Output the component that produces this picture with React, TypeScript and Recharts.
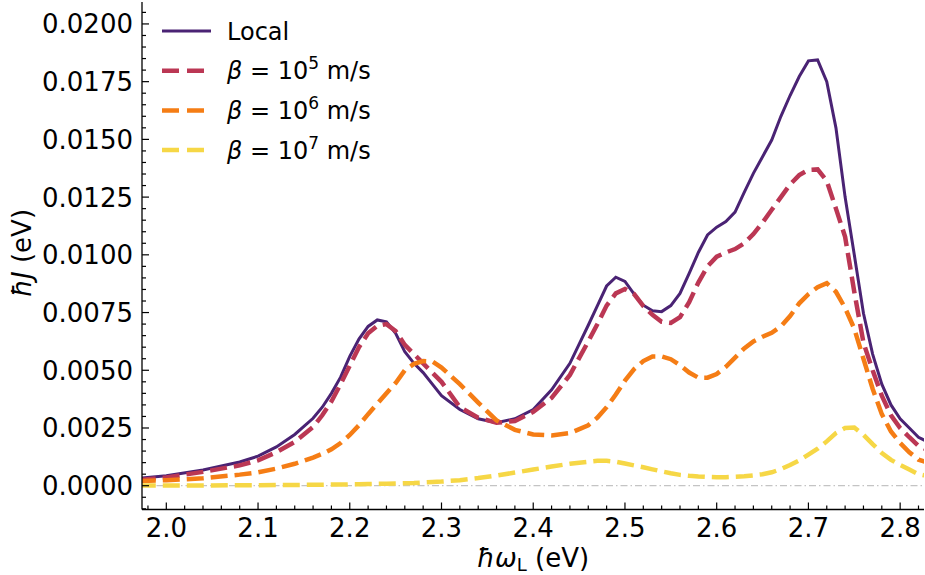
import React from 'react';
import { LineChart, Line, XAxis, YAxis, ReferenceLine } from 'recharts';

const xs = [
  1.97, 2.0, 2.04, 2.08, 2.1, 2.12, 2.14, 2.16,
  2.17, 2.18, 2.19, 2.2, 2.21, 2.22, 2.23, 2.24, 2.25, 2.26, 2.27, 2.28, 2.29, 2.3,
  2.32, 2.34, 2.36, 2.38, 2.4, 2.42, 2.44, 2.46,
  2.47, 2.48, 2.49, 2.5, 2.51, 2.52, 2.53, 2.54, 2.55, 2.56,
  2.57, 2.58, 2.59, 2.6, 2.61, 2.62, 2.63, 2.64, 2.65, 2.66,
  2.67, 2.68, 2.69, 2.7, 2.71, 2.72, 2.73, 2.74, 2.75, 2.76,
  2.77, 2.78, 2.79, 2.8, 2.81, 2.82, 2.83,
];

const localJ = [
  0.00032, 0.00043, 0.00068, 0.00103, 0.00128, 0.00168, 0.00222, 0.00292,
  0.0034, 0.004, 0.0047, 0.0056, 0.00635, 0.0069, 0.00718, 0.0071, 0.0066, 0.0058, 0.0053, 0.0049, 0.0044, 0.0039,
  0.0033, 0.0029, 0.00273, 0.0029, 0.0033, 0.00415, 0.0053, 0.00695,
  0.0078, 0.00865, 0.00903, 0.00885, 0.0083, 0.00782, 0.00758, 0.00754, 0.0078, 0.00833,
  0.0092, 0.0101, 0.01086, 0.0112, 0.01144, 0.01185, 0.0127, 0.01353, 0.01425, 0.01497,
  0.016, 0.0169, 0.01772, 0.0184, 0.01844, 0.0175, 0.0155, 0.0125, 0.01, 0.00747,
  0.0057, 0.0044, 0.0035, 0.0029, 0.0025, 0.0021, 0.0019,
];

const beta1e5 = [
  0.00025, 0.00036, 0.0006, 0.00088, 0.0011, 0.00145, 0.0019, 0.00255,
  0.00305, 0.00365, 0.0044, 0.0052, 0.006, 0.0066, 0.00692, 0.007, 0.0067, 0.0061, 0.0057, 0.0053, 0.0049, 0.0045,
  0.0034, 0.00295, 0.00273, 0.0028, 0.0032, 0.0038, 0.0048, 0.00625,
  0.007, 0.0078, 0.00833, 0.00852, 0.0083, 0.00778, 0.0074, 0.0071, 0.00705, 0.0073,
  0.00795, 0.0088, 0.0095, 0.00992, 0.0101, 0.01025, 0.0105, 0.0109, 0.0114, 0.01195,
  0.0125, 0.01305, 0.01345, 0.01368, 0.0137, 0.0132, 0.012, 0.01078, 0.0084, 0.0062,
  0.005, 0.0039, 0.00305, 0.0025, 0.0021, 0.00172, 0.00155,
];

const beta1e6 = [
  0.0002, 0.00024, 0.00032, 0.00048, 0.00058, 0.00074, 0.00095, 0.00122,
  0.00138, 0.00158, 0.00185, 0.0022, 0.00262, 0.0031, 0.00355, 0.004, 0.00445, 0.005, 0.00528, 0.0054, 0.00538, 0.00512,
  0.0044, 0.0036, 0.00283, 0.00242, 0.00222, 0.00218, 0.00228, 0.00262,
  0.00295, 0.0034, 0.00395, 0.00455, 0.00505, 0.0054, 0.0056, 0.0056, 0.00548, 0.00522,
  0.0049, 0.00468, 0.00468, 0.00484, 0.00515, 0.00555, 0.00595, 0.00625, 0.00645, 0.00662,
  0.0069, 0.00735, 0.0079, 0.0083, 0.0086, 0.00877, 0.0084, 0.0077, 0.0068, 0.0055,
  0.0042, 0.0031, 0.00235, 0.00185, 0.00145, 0.00113, 0.001,
];

const beta1e7 = [
  0.00001, 0.00001, 0.00001, 0.00002, 0.00002, 0.00003, 0.00003, 0.00004,
  0.00004, 0.00005, 0.00005, 0.00006, 0.00006, 0.00007, 0.00008, 0.00009, 0.0001, 0.00011, 0.00012, 0.00014, 0.00016, 0.00018,
  0.00024, 0.00033, 0.00044, 0.00057, 0.0007, 0.00083, 0.00095, 0.00104,
  0.00108, 0.00108, 0.00104, 0.00096, 0.00088, 0.0008, 0.00071, 0.00062, 0.00054, 0.00047,
  0.00043, 0.0004, 0.00038, 0.00037, 0.00037, 0.00039, 0.00041, 0.00045, 0.0005, 0.00058,
  0.00072, 0.0009, 0.0011, 0.00135, 0.0016, 0.00192, 0.00228, 0.0025, 0.00252, 0.0022,
  0.0018, 0.00142, 0.00112, 0.0009, 0.0007, 0.0005, 0.00042,
];

const xTicks = [
  1.98, 2.0, 2.02, 2.04, 2.06, 2.08, 2.1, 2.12, 2.14, 2.16, 2.18, 2.2, 2.22, 2.24, 2.26, 2.28,
  2.3, 2.32, 2.34, 2.36, 2.38, 2.4, 2.42, 2.44, 2.46, 2.48, 2.5, 2.52, 2.54, 2.56, 2.58,
  2.6, 2.62, 2.64, 2.66, 2.68, 2.7, 2.72, 2.74, 2.76, 2.78, 2.8, 2.82,
];

const yTicks = [
  -0.001, -0.0005, 0, 0.0005, 0.001, 0.0015, 0.002, 0.0025, 0.003, 0.0035, 0.004, 0.0045,
  0.005, 0.0055, 0.006, 0.0065, 0.007, 0.0075, 0.008, 0.0085, 0.009, 0.0095, 0.01, 0.0105,
  0.011, 0.0115, 0.012, 0.0125, 0.013, 0.0135, 0.014, 0.0145, 0.015, 0.0155, 0.016, 0.0165,
  0.017, 0.0175, 0.018, 0.0185, 0.019, 0.0195, 0.02, 0.0205,
];

const seriesLabels = ['Local', '10^5', '10^6', '10^7'];

const rows = xs.map((x, i) => ({
  x,
  local: localJ[i],
  b5: beta1e5[i],
  b6: beta1e6[i],
  b7: beta1e7[i],
}));

const FONT = "'DejaVu Sans', 'Liberation Sans', sans-serif";
const W = 925;
const H = 575;
const X_DOMAIN: [number, number] = [1.9735, 2.826];
const Y_DOMAIN: [number, number] = [-0.00103, 0.02095];
const MAJOR = 7;
const MINOR = 4;

const isMajorX = (v: number) => Math.abs(v * 10 - Math.round(v * 10)) < 1e-6;
const isMajorY = (v: number) => Math.abs(v / 0.0025 - Math.round(v / 0.0025)) < 1e-6;

const series = [
  { key: 'local', color: '#4a2374', width: 3, dash: undefined as string | undefined },
  { key: 'b5', color: '#bb3754', width: 4.5, dash: '17 7' },
  { key: 'b6', color: '#f57d15', width: 4.5, dash: '17 7' },
  { key: 'b7', color: '#f6d746', width: 4.5, dash: '17 7' },
];

const BottomTick = (props: any) => {
  const { x, y, payload } = props;
  const v = payload.value;
  const major = isMajorX(v);
  return (
    <g>
      <line x1={x} x2={x} y1={y} y2={y - (major ? MAJOR : MINOR)} stroke="#000" strokeWidth={1.2} />
      {major && (
        <text x={x} y={y + 27} textAnchor="middle" fontSize={26} fontFamily={FONT} fill="#000">
          {v.toFixed(1)}
        </text>
      )}
    </g>
  );
};

const TopTick = (props: any) => {
  const { x, y, payload } = props;
  const major = isMajorX(payload.value);
  return <line x1={x} x2={x} y1={y} y2={y + (major ? MAJOR : MINOR)} stroke="#000" strokeWidth={1.2} />;
};

const LeftTick = (props: any) => {
  const { x, y, payload } = props;
  const v = payload.value;
  const major = isMajorY(v);
  return (
    <g>
      <line x1={x} x2={x + (major ? MAJOR : MINOR)} y1={y} y2={y} stroke="#000" strokeWidth={1.2} />
      {major && (
        <text x={x - 9} y={y + 9.5} textAnchor="end" fontSize={26} fontFamily={FONT} fill="#000">
          {v.toFixed(4)}
        </text>
      )}
    </g>
  );
};

const RightTick = (props: any) => {
  const { x, y, payload } = props;
  const major = isMajorY(payload.value);
  return <line x1={x} x2={x - (major ? MAJOR : MINOR)} y1={y} y2={y} stroke="#000" strokeWidth={1.2} />;
};

const Overlay = () => (
  <svg width={W} height={H} style={{ position: 'absolute', left: 0, top: 0, pointerEvents: 'none' }}>
    {series.map((s, i) => {
      const cy = 31 + i * 39.7;
      const label = seriesLabels[i];
      return (
        <g key={s.key}>
          {s.dash ? (
            <line x1={162} x2={204} y1={cy} y2={cy} stroke={s.color} strokeWidth={s.width} strokeDasharray="17 8" />
          ) : (
            <line x1={162} x2={211} y1={cy} y2={cy} stroke={s.color} strokeWidth={s.width} />
          )}
          {label.startsWith('10^') ? (
            <text x={227} y={cy + 8.7} fontSize={24} fontFamily={FONT} fill="#000">
              <tspan fontStyle="italic">β</tspan>
              <tspan>{' = 10'}</tspan>
              <tspan dy={-10} fontSize={17}>{label.slice(3)}</tspan>
              <tspan dy={10}>{' m/s'}</tspan>
            </text>
          ) : (
            <text x={227} y={cy + 8.7} fontSize={24} fontFamily={FONT} fill="#000">
              {label}
            </text>
          )}
        </g>
      );
    })}
    <text x={533} y={567} textAnchor="middle" fontSize={26} fontFamily={FONT} fill="#000">
      <tspan fontStyle="italic">ħω</tspan>
      <tspan fontSize={18} dy={4}>L</tspan>
      <tspan dy={-4}>{' (eV)'}</tspan>
    </text>
    <text transform="translate(31,253) rotate(-90)" textAnchor="middle" fontSize={26} fontFamily={FONT} fill="#000">
      <tspan fontStyle="italic">ħJ</tspan>
      <tspan>{' (eV)'}</tspan>
    </text>
  </svg>
);

export default function App() {
  return (
    <div style={{ position: 'absolute', left: 0, top: 0, width: W, height: H, background: '#fff' }}>
      <LineChart width={W} height={H} data={rows} margin={{ top: 2, right: 1, bottom: 0, left: 0 }}>
        <XAxis
          xAxisId="b"
          dataKey="x"
          type="number"
          domain={X_DOMAIN}
          allowDataOverflow
          ticks={xTicks}
          interval={0}
          height={65.5}
          tickSize={0}
          tickMargin={0}
          tickLine={false}
          axisLine={{ stroke: '#000', strokeWidth: 1.3 }}
          tick={(p: any) => <BottomTick {...p} />}
        />
        <XAxis
          xAxisId="t"
          orientation="top"
          dataKey="x"
          type="number"
          domain={X_DOMAIN}
          allowDataOverflow
          ticks={xTicks}
          interval={0}
          height={0}
          tickSize={0}
          tickMargin={0}
          tickLine={false}
          axisLine={{ stroke: '#000', strokeWidth: 1.3 }}
          tick={(p: any) => <TopTick {...p} />}
        />
        <YAxis
          yAxisId="l"
          type="number"
          domain={Y_DOMAIN}
          allowDataOverflow
          ticks={yTicks}
          interval={0}
          width={142}
          tickSize={0}
          tickMargin={0}
          tickLine={false}
          axisLine={{ stroke: '#000', strokeWidth: 1.3 }}
          tick={(p: any) => <LeftTick {...p} />}
        />
        <YAxis
          yAxisId="r"
          orientation="right"
          type="number"
          domain={Y_DOMAIN}
          allowDataOverflow
          ticks={yTicks}
          interval={0}
          width={0}
          tickSize={0}
          tickMargin={0}
          tickLine={false}
          axisLine={{ stroke: '#000', strokeWidth: 1.3 }}
          tick={(p: any) => <RightTick {...p} />}
        />
        <ReferenceLine xAxisId="b" yAxisId="l" y={0} stroke="#c4c4c4" strokeWidth={1.2} strokeDasharray="7 3 1.5 3" />
        {series.map((s) => (
          <Line
            key={s.key}
            xAxisId="b"
            yAxisId="l"
            dataKey={s.key}
            type="linear"
            stroke={s.color}
            strokeWidth={s.width}
            strokeDasharray={s.dash}
            dot={false}
            activeDot={false}
            isAnimationActive={false}
          />
        ))}
      </LineChart>
      <Overlay />
    </div>
  );
}
